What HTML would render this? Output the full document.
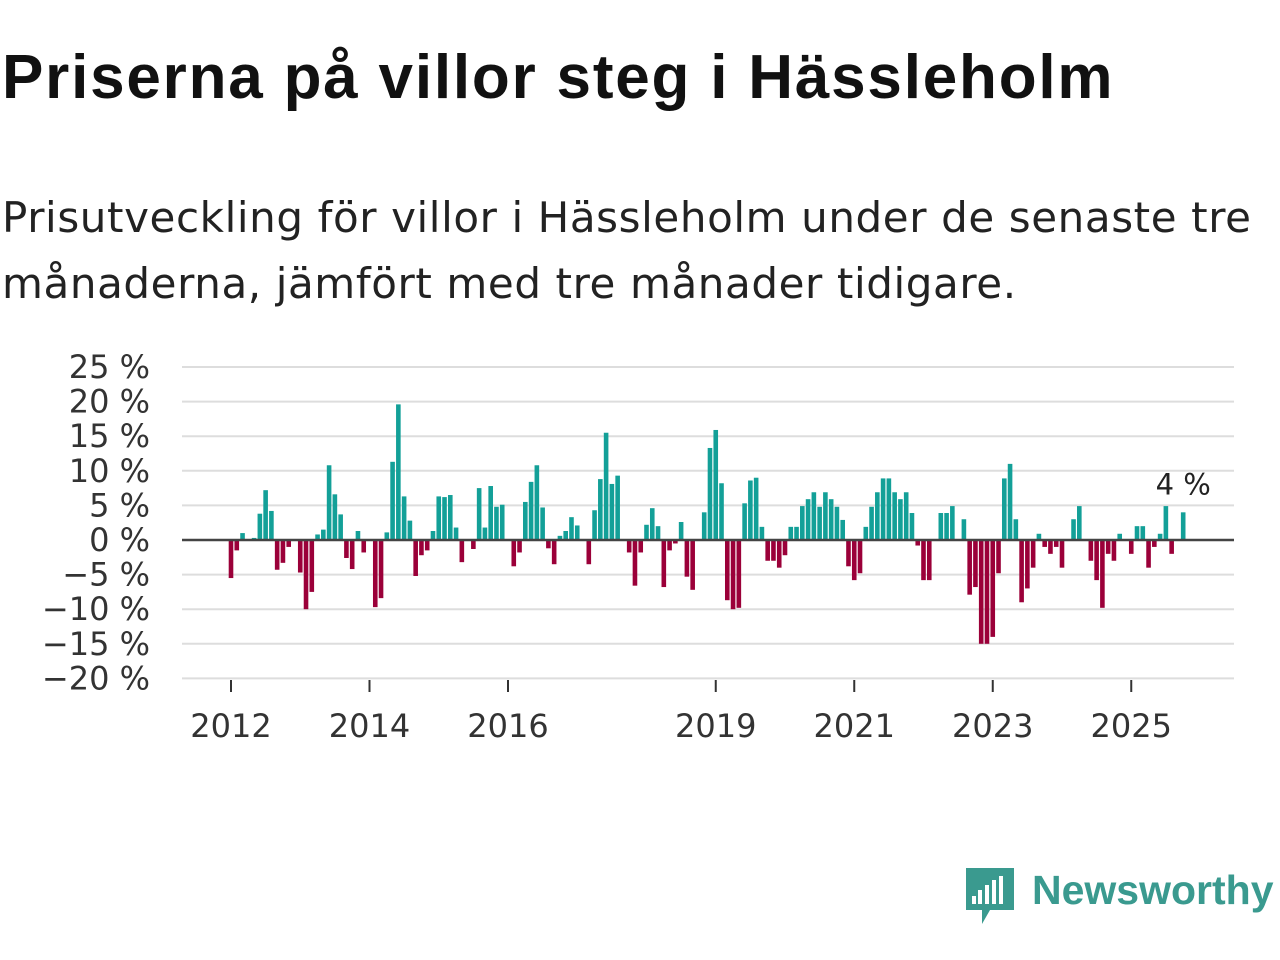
<!DOCTYPE html>
<html><head><meta charset="utf-8"><style>
body{margin:0;width:1280px;height:960px;background:#fff;font-family:"Liberation Sans","DejaVu Sans",sans-serif;overflow:hidden}
#t{position:absolute;left:2px;top:42px;font-size:62px;font-weight:bold;color:#111;letter-spacing:1.8px}
#s{position:absolute;left:2px;top:185px;font-size:42px;line-height:66px;color:#222;font-family:"DejaVu Sans",sans-serif;letter-spacing:0.6px}
svg{position:absolute;left:0;top:0}
</style></head><body>
<div id="t">Priserna på villor steg i Hässleholm</div>
<div id="s">Prisutveckling för villor i Hässleholm under de senaste tre<br>månaderna, jämfört med tre månader tidigare.</div>
<svg id="c" width="1280" height="960"></svg>
<script>
const yTicks=[25,20,15,10,5,0,-5,-10,-15,-20];
const xTickYears=[2012,2014,2016,2019,2021,2023,2025];
const startYear=2012;
const values=[-5.5,-1.5,1,0,0.3,3.8,7.2,4.2,-4.3,-3.3,-1,0,-4.7,-10,-7.5,0.8,1.5,10.8,6.6,3.7,-2.6,-4.2,1.3,-1.8,0,-9.7,-8.4,1.1,11.3,19.6,6.3,2.8,-5.2,-2.2,-1.5,1.3,6.3,6.2,6.5,1.8,-3.2,0,-1.3,7.5,1.8,7.8,4.8,5.1,0,-3.8,-1.8,5.5,8.4,10.8,4.7,-1.2,-3.5,0.6,1.3,3.3,2.1,0,-3.5,4.3,8.8,15.5,8.1,9.3,0,-1.8,-6.6,-1.8,2.2,4.6,2.0,-6.8,-1.5,-0.5,2.6,-5.3,-7.2,0,4.0,13.3,15.9,8.2,-8.7,-10,-9.8,5.3,8.6,9.0,1.9,-3,-3,-4,-2.2,1.9,1.9,4.9,5.9,6.9,4.8,6.9,5.9,4.8,2.9,-3.8,-5.8,-4.8,1.9,4.8,6.9,8.9,8.9,6.9,5.9,6.9,3.9,-0.8,-5.8,-5.8,0,3.9,3.9,4.9,0,3.0,-7.9,-6.8,-15,-15,-14,-4.8,8.9,11,3.0,-9,-7,-4,0.9,-1,-2,-1,-4,0,3,4.9,0,-3,-5.8,-9.8,-2,-3,0.9,0,-2,2,2,-4,-1,0.9,4.9,-2,0,4];
const lastLabel="4 %";
const NS="http://www.w3.org/2000/svg";
const svg=document.getElementById('c');
const y=v=>540-v*6.92;
const x=m=>231+m*(69.25/12);
function mk(tag,a){const e=document.createElementNS(NS,tag);for(const k in a)e.setAttribute(k,a[k]);svg.appendChild(e);return e;}
yTicks.forEach(t=>{
 if(t!==0){const l=mk('line',{x1:182,x2:1234,y1:y(t),y2:y(t),stroke:'#ddd','stroke-width':2});
 
 }
 const tx=mk('text',{x:150,y:y(t)+11,'text-anchor':'end','font-size':32,fill:'#333','font-family':'DejaVu Sans, sans-serif'});
 tx.textContent=(t<0?'\u2212'+(-t):t)+' %';
 
 
});
values.forEach((v,i)=>{
 const r=mk('rect',{x:x(i)-2.3,width:4.6,y:Math.min(y(v),540),height:Math.abs(y(v)-540),fill:v>=0?'#13a098':'#9b0039'});
 
 
});
const z=mk('line',{x1:182,x2:1234,y1:540,y2:540,stroke:'#444','stroke-width':2.5});


xTickYears.forEach(yr=>{
 const xx=x((yr-startYear)*12);
 const tk=mk('line',{x1:xx,x2:xx,y1:680,y2:692,stroke:'#333','stroke-width':2});
 
 
 const tx=mk('text',{x:xx,y:737,'text-anchor':'middle','font-size':32,fill:'#333','font-family':'DejaVu Sans, sans-serif'});
 tx.textContent=yr;
 
 
});
const li=values.length-1;
const lb=mk('text',{x:x(li),y:y(values[li])-18,'text-anchor':'middle','font-size':29,fill:'#222','font-family':'DejaVu Sans, sans-serif'});
lb.textContent=lastLabel;


const g=mk('g',{});


const p=document.createElementNS(NS,'path');p.setAttribute('d','M966 868h48v42h-24l-8 14v-14h-16z');p.setAttribute('fill','#3a9a8f');g.appendChild(p);
[[972,896],[978,890],[985,885],[992,880],[999,876]].forEach(b=>{const r=document.createElementNS(NS,'rect');r.setAttribute('x',b[0]);r.setAttribute('y',b[1]);r.setAttribute('width',4);r.setAttribute('height',904-b[1]);r.setAttribute('fill','#fff');g.appendChild(r);});
const lt=document.createElementNS(NS,'text');lt.setAttribute('x',1032);lt.setAttribute('y',904);lt.setAttribute('font-size',41);lt.setAttribute('font-weight','bold');lt.setAttribute('fill','#3a9a8f');lt.setAttribute('font-family','Liberation Sans, sans-serif');lt.textContent='Newsworthy';g.appendChild(lt);
</script>
</body></html>
